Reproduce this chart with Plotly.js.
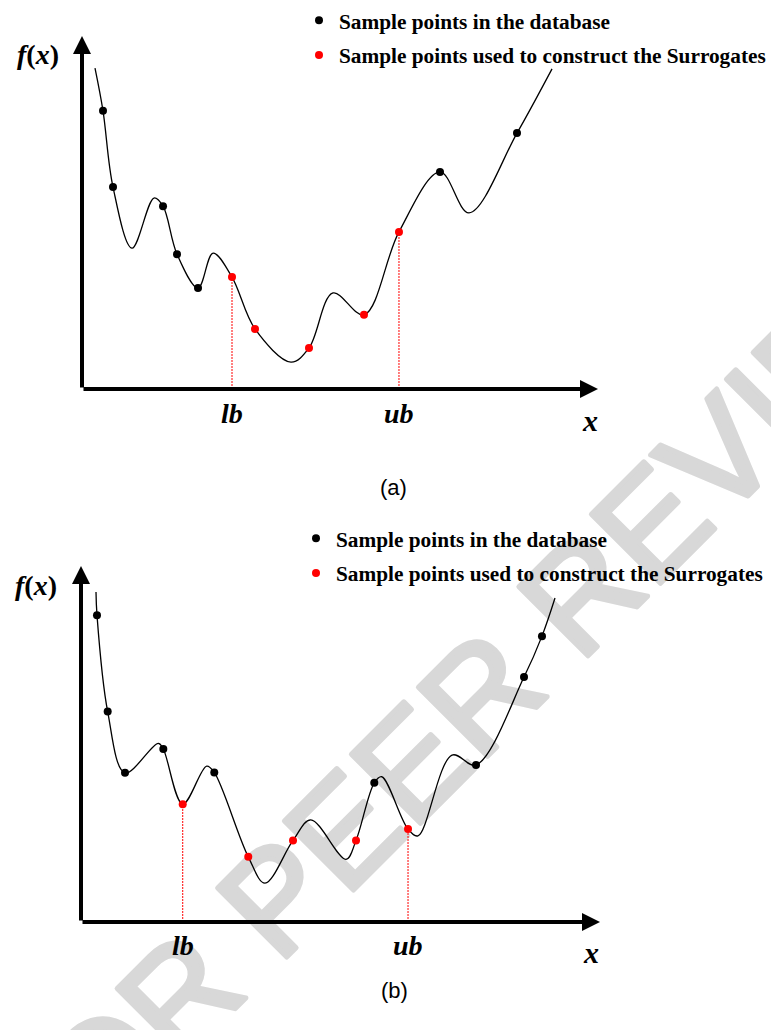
<!DOCTYPE html>
<html>
<head>
<meta charset="utf-8">
<script src="https://cdn.plot.ly/plotly-3.0.1.min.js"></script>
<style>
  html, body { margin: 0; padding: 0; background: #ffffff; }
  #stage { position: relative; width: 771px; height: 1030px; }
  #wm, #fig { position: absolute; left: 0; top: 0; width: 771px; height: 1030px; }
  #wm .annotation-text { stroke: #d8d8d8; stroke-width: 5px; stroke-linejoin: round; }
</style>
</head>
<body>
<div id="stage">
  <div id="wm"></div>
  <div id="fig"></div>
</div>
<script>
// ---------- Panel (a) ----------
// sample points stored in the database (black)
const dbA_x = [4.07, 6.01, 15.70, 18.41, 22.48, 69.38, 84.30];
const dbA_y = [78.8, 57.2, 51.8, 38.2, 28.6, 61.5, 72.5];
// sample points used to build the surrogates (red); first = lb, last = ub
const surA_x = [29.07, 33.53, 43.99, 54.65, 61.43];
const surA_y = [31.7, 17.0, 11.6, 21.0, 44.5];
// remaining knots of the objective curve (ends and turning points)
const knotA_x = [2.52, 9.69, 13.95, 25.39, 40.50, 48.64, 75.0, 91.09];
const knotA_y = [90.9, 39.9, 54.1, 38.5, 7.6, 27.2, 49.9, 90.7];

// ---------- Panel (b) ----------
const dbB_x = [3.08, 5.14, 8.48, 15.86, 25.68, 56.51, 76.11, 85.36, 88.82];
const dbB_y = [86.2, 59.1, 41.9, 48.6, 42.0, 39.1, 44.1, 68.8, 80.3];
const surB_x = [19.60, 32.23, 40.85, 52.99, 63.01];
const surB_y = [33.1, 18.3, 22.9, 22.9, 26.1];
const knotB_x = [2.89, 14.89, 24.22, 35.45, 44.26, 51.06, 57.94, 64.93, 71.48, 91.33];
const knotB_y = [92.7, 50.2, 43.8, 10.9, 28.7, 17.6, 40.8, 24.2, 46.9, 91.0];

// ---------- text ----------
const legendNames = ['Sample points in the database', 'Sample points used to construct the Surrogates'];
const boundLabels = ['lb', 'ub'];
const axisLabels = ['<b><i>f</i>(<i>x</i>)</b>', '<b><i>x</i></b>'];
const captions = ['(a)', '(b)'];
const watermark = 'FOR PEER REVIEW';

// merge all knots of a curve and sort them along x
function curveOf(groups) {
  const pts = [];
  groups.forEach(([xs, ys]) => xs.forEach((v, i) => pts.push([v, ys[i]])));
  pts.sort((a, b) => a[0] - b[0]);
  return { x: pts.map(p => p[0]), y: pts.map(p => p[1]) };
}

const serifBold = { family: 'Liberation Serif, Times New Roman, serif', size: 21.3, color: '#000', weight: 'bold' };

function panelTraces(db, sur, knots, xa, ya, legendId, grp) {
  const c = curveOf([knots, db, sur]);
  const n = sur[0].length;
  const lb = sur[0][0], ub = sur[0][n - 1];
  return [
    { x: c.x, y: c.y, xaxis: xa, yaxis: ya, mode: 'lines', hoverinfo: 'skip', showlegend: false,
      line: { color: '#000', width: 1.3, shape: 'spline', smoothing: 1 } },
    { x: [lb, lb, null, ub, ub], y: [0, sur[1][0], null, 0, sur[1][n - 1]], xaxis: xa, yaxis: ya,
      mode: 'lines', hoverinfo: 'skip', showlegend: false,
      line: { color: '#ff0000', width: 1, dash: '2px,1px' } },
    { x: db[0], y: db[1], xaxis: xa, yaxis: ya, mode: 'markers', name: legendNames[0],
      legend: legendId, legendgroup: grp + '1', marker: { color: '#000', size: 8 } },
    { x: sur[0], y: sur[1], xaxis: xa, yaxis: ya, mode: 'markers', name: legendNames[1],
      legend: legendId, legendgroup: grp + '2', marker: { color: '#ff0000', size: 8 } }
  ];
}

const traces = [].concat(
  panelTraces([dbA_x, dbA_y], [surA_x, surA_y], [knotA_x, knotA_y], 'x', 'y', 'legend', 'a'),
  panelTraces([dbB_x, dbB_y], [surB_x, surB_y], [knotB_x, knotB_y], 'x2', 'y2', 'legend2', 'b')
);

function hidden(domain) {
  return { domain: domain, range: [0, 100], showgrid: false, zeroline: false, showline: false,
           showticklabels: false, ticks: '', fixedrange: true };
}

function arrow(xr, yr, x, y, ax, ay) {
  return { xref: xr, yref: yr, axref: xr, ayref: yr, x: x, y: y, ax: ax, ay: ay, text: '',
           showarrow: true, arrowhead: 2, arrowsize: 0.9, arrowwidth: 4, arrowcolor: '#000', standoff: 0 };
}

function label(xr, yr, x, y, txt, size, dy) {
  return { xref: xr, yref: yr, x: x, y: y, text: txt, showarrow: false, yshift: dy,
           xanchor: 'center', yanchor: 'middle',
           font: { family: 'Liberation Serif, Times New Roman, serif', size: size, color: '#000' } };
}

function caption(x, y, txt) {
  return { xref: 'paper', yref: 'paper', x: x, y: y, text: txt, showarrow: false,
           xanchor: 'center', yanchor: 'middle',
           font: { family: 'Liberation Sans, Arial, sans-serif', size: 22, color: '#000' } };
}

const annotations = [
  // panel (a) axes
  arrow('x', 'y', 100, 0, 0, 0),
  arrow('x', 'y', 0, 100, 0, 0),
  label('x', 'y', surA_x[0], 0, '<b><i>' + boundLabels[0] + '</i></b>', 28, -24),
  label('x', 'y', surA_x[surA_x.length - 1], 0, '<b><i>' + boundLabels[1] + '</i></b>', 28, -24),
  label('x', 'y', 98.4, 0, axisLabels[1], 30, -31),
  label('paper', 'paper', 38 / 771, 1 - 55 / 1030, axisLabels[0], 28, 0),
  caption(394 / 771, 1 - 487 / 1030, captions[0]),
  // panel (b) axes
  arrow('x2', 'y2', 100, 0, 0, 0),
  arrow('x2', 'y2', 0, 100, 0, 0),
  label('x2', 'y2', surB_x[0], 0, '<b><i>' + boundLabels[0] + '</i></b>', 28, -23),
  label('x2', 'y2', surB_x[surB_x.length - 1], 0, '<b><i>' + boundLabels[1] + '</i></b>', 28, -23),
  label('x2', 'y2', 98.3, 0, axisLabels[1], 30, -30),
  label('paper', 'paper', 36 / 771, 1 - 585 / 1030, axisLabels[0], 28, 0),
  caption(395 / 771, 1 - 990 / 1030, captions[1])
];

const legendStyle = (x, y) => ({ x: x, y: y, xanchor: 'left', yanchor: 'top', bgcolor: 'rgba(0,0,0,0)',
  borderwidth: 0, font: serifBold, tracegroupgap: 4, itemclick: false, itemdoubleclick: false });

const layout = {
  width: 771, height: 1030,
  margin: { l: 0, r: 0, t: 0, b: 0 },
  paper_bgcolor: 'rgba(0,0,0,0)', plot_bgcolor: 'rgba(0,0,0,0)',
  showlegend: true,
  xaxis: hidden([82 / 771, 598 / 771]),
  yaxis: hidden([1 - 389 / 1030, 1 - 36 / 1030]),
  xaxis2: Object.assign(hidden([81 / 771, 600 / 771]), { anchor: 'y2' }),
  yaxis2: Object.assign(hidden([1 - 922 / 1030, 1 - 566 / 1030]), { anchor: 'x2' }),
  legend: legendStyle(299 / 771, 1),
  legend2: legendStyle(296 / 771, 1 - 518 / 1030),
  annotations: annotations
};

// faint diagonal stamp underneath the figure
Plotly.newPlot('wm', [], {
  width: 771, height: 1030, margin: { l: 0, r: 0, t: 0, b: 0 },
  paper_bgcolor: '#ffffff', plot_bgcolor: '#ffffff',
  xaxis: { visible: false }, yaxis: { visible: false },
  annotations: [{ xref: 'paper', yref: 'paper', x: 472 / 771, y: 1 - 701 / 1030, text: watermark,
    showarrow: false, textangle: -45, xanchor: 'center', yanchor: 'middle',
    font: { family: 'Liberation Sans, Arial, sans-serif', size: 142, color: '#d8d8d8' } }]
}, { staticPlot: true });

Plotly.newPlot('fig', traces, layout, { staticPlot: true });
</script>
</body>
</html>
